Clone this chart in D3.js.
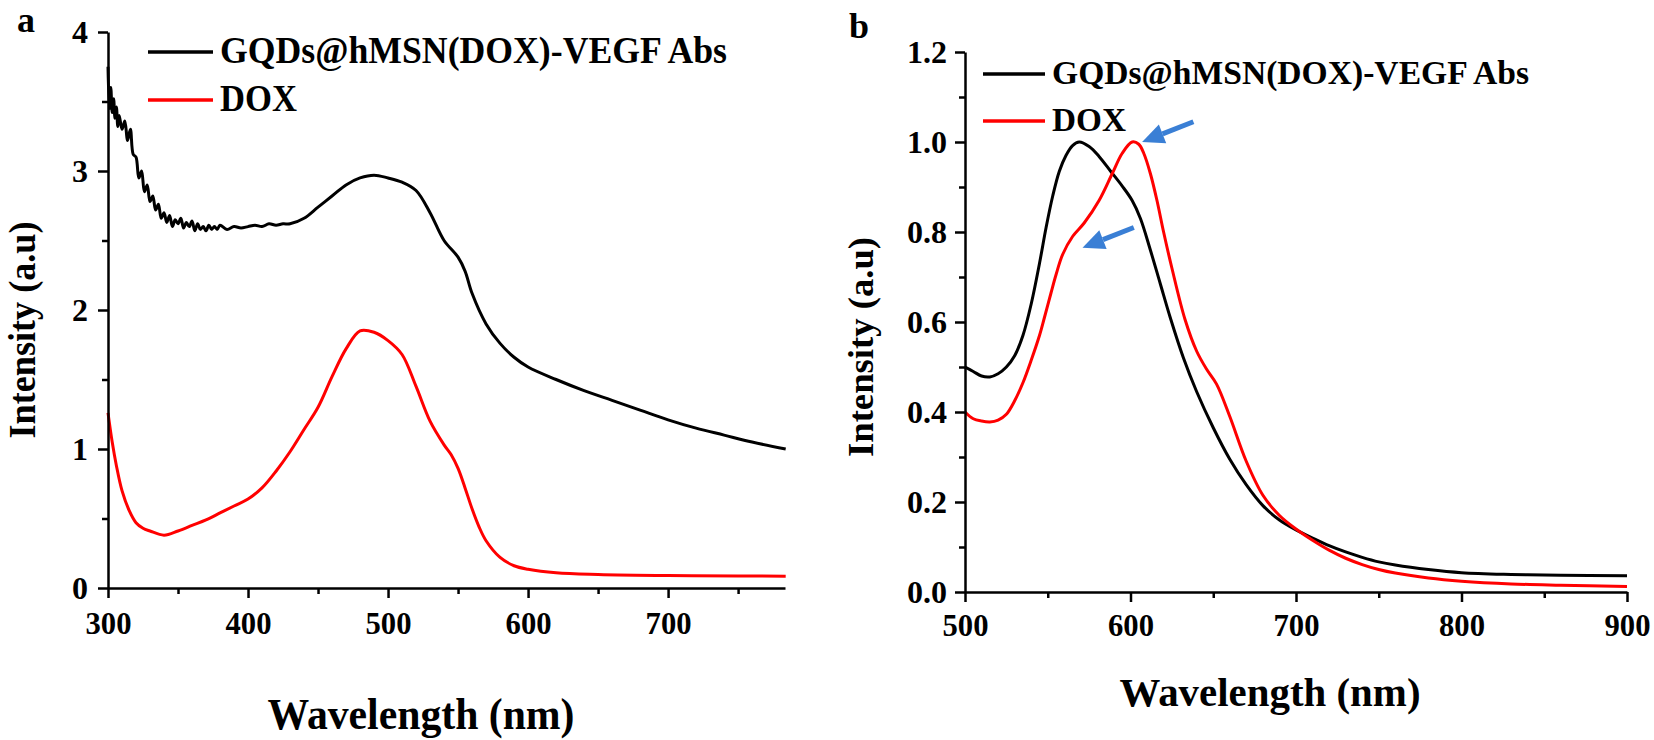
<!DOCTYPE html>
<html>
<head>
<style>
  body { margin: 0; background: #fff; }
  svg text { font-family: "Liberation Serif", "Times New Roman", serif; font-weight: bold; fill: #000; }
  .axis path, .axis line { stroke: #000; stroke-width: 2.5px; }
  .curve { fill: none; stroke-width: 3px; stroke-linejoin: round; }
</style>
</head>
<body>
<svg width="1654" height="740" font-family="Liberation Serif, Times New Roman, serif"></svg>
<script src="https://cdn.jsdelivr.net/npm/d3@7"></script>
<script>
// series names (legend)
const seriesNames = ["GQDs@hMSN(DOX)-VEGF Abs", "DOX"];

// panel a : absorbance
const absGqdNm = [300,301,302,303,304,305,306,307,308,
  310,312,314,316,318,320,322,324,326,328,330,332,334,336,338,340,342,344,346,348,350,
  352,354,356,358,360,362,364,366,368,370,372,374,376,378,380,
  385,390,395,400,405,410,415,420,425,430,
  440,450,460,470,480,490,500,510,520,530,
  540,550,555,560,570,580,590,600,
  620,640,660,680,700,720,740,760,784];
const absGqd = [3.75,3.45,3.6,3.42,3.52,3.38,3.46,3.32,3.4,
  3.3,3.36,3.22,3.3,3.12,3.1,2.95,3.0,2.85,2.9,2.78,2.82,2.72,2.76,2.66,2.7,2.63,2.68,2.6,2.65,2.62,
  2.66,2.59,2.63,2.6,2.64,2.57,2.62,2.58,2.6,2.57,2.61,2.58,2.6,2.58,2.61,
  2.58,2.6,2.59,2.6,2.61,2.6,2.62,2.61,2.62,2.62,
  2.66,2.74,2.82,2.9,2.95,2.97,2.95,2.92,2.86,2.7,
  2.5,2.38,2.28,2.12,1.9,1.76,1.66,1.59,
  1.5,1.42,1.35,1.28,1.21,1.15,1.1,1.05,1.0];

const absDoxNm = [300,303,306,310,315,320,325,330,
  340,350,360,370,380,390,400,410,420,430,440,450,460,470,480,490,500,510,520,530,
  540,545,550,555,560,565,570,
  580,590,600,
  620,650,700,750,784];
const absDox = [1.26,1.05,0.88,0.7,0.56,0.47,0.43,0.41,
  0.38,0.41,0.45,0.49,0.54,0.59,0.64,0.72,0.84,0.98,1.14,1.3,1.52,1.72,1.85,1.84,1.78,1.68,1.45,1.2,
  1.03,0.96,0.86,0.72,0.57,0.44,0.34,
  0.22,0.16,0.135,
  0.11,0.098,0.09,0.087,0.085];

// panel b : fluorescence
const flGqdNm = [500,505,510,515,520,525,530,
  535,540,545,549,553,557,561,565,569,
  575,581,588,595,601,606,612,618,624,632,640,
  650,660,670,680,690,700,710,720,730,740,750,760,
  780,800,830,860,900];
const flGqd = [0.50,0.49,0.48,0.478,0.485,0.50,0.525,
  0.57,0.64,0.73,0.81,0.88,0.935,0.97,0.992,1.0,
  0.99,0.968,0.935,0.902,0.87,0.83,0.76,0.685,0.61,0.52,0.445,
  0.365,0.295,0.238,0.192,0.16,0.138,0.12,0.103,0.089,0.077,0.067,0.06,
  0.05,0.043,0.039,0.037,0.036];

const flDoxNm = [500,505,510,515,520,525,530,535,540,545,
  548,552,555,559,565,572,581,589,595,601,
  605,608,612,616,620,625,633,640,646,652,
  660,670,680,690,700,710,720,730,740,750,760,
  780,800,830,860,900];
const flDox = [0.40,0.385,0.38,0.378,0.382,0.395,0.425,0.465,0.515,0.57,
  0.61,0.665,0.705,0.75,0.79,0.82,0.87,0.93,0.975,1.0,
  0.995,0.975,0.93,0.87,0.80,0.72,0.605,0.535,0.495,0.462,
  0.39,0.29,0.215,0.17,0.14,0.115,0.093,0.075,0.061,0.05,0.042,
  0.031,0.024,0.018,0.015,0.012];

// tick values
const aXTicks = [300,400,500,600,700];
const aXMinor = [350,450,550,650,750];
const aYTicks = [0,1,2,3,4];
const aYMinor = [0.5,1.5,2.5,3.5];
const bXTicks = [500,600,700,800,900];
const bXMinor = [550,650,750,850];
const bYTicks = [0,0.2,0.4,0.6,0.8,1.0,1.2];
const bYMinor = [0.1,0.3,0.5,0.7,0.9,1.1];

// arrows in panel b (tip / tail, data coords)
const arrowTipNm = [607, 571];
const arrowTipVal = [1.0, 0.765];
const arrowTailNm = [638, 602];
const arrowTailVal = [1.045, 0.81];

const svg = d3.select("svg");
const colors = ["#000", "#f00"];

function zip(xs, ys) { return xs.map((x, i) => ({x: x, y: ys[i]})); }

function panel(o) {
  const x = d3.scaleLinear().domain(o.xDomain).range(o.xRange);
  const y = d3.scaleLinear().domain(o.yDomain).range(o.yRange);
  const g = svg.append("g");

  const line = d3.line().x(d => x(d.x)).y(d => y(d.y)).curve(d3.curveCatmullRom);
  o.series.forEach((s, i) => {
    g.append("path").attr("class", "curve")
      .attr("stroke", colors[i])
      .attr("d", line(s));
  });

  // minor ticks
  g.append("g").attr("class", "axis").attr("transform", `translate(0,${o.yRange[0]})`)
    .call(d3.axisBottom(x).tickValues(o.xMinor).tickSize(6).tickFormat(""))
    .select(".domain").remove();
  g.append("g").attr("class", "axis").attr("transform", `translate(${o.xRange[0]},0)`)
    .call(d3.axisLeft(y).tickValues(o.yMinor).tickSize(6).tickFormat(""))
    .select(".domain").remove();

  const xa = g.append("g").attr("class", "axis").attr("transform", `translate(0,${o.yRange[0]})`)
    .call(d3.axisBottom(x).tickValues(o.xTicks).tickSize(10).tickSizeOuter(0).tickPadding(o.xPad).tickFormat(d3.format("d")))
    .attr("font-family", null).attr("font-size", 32);
  xa.selectAll("text").attr("textLength", 46).attr("lengthAdjust", "spacingAndGlyphs");
  g.append("g").attr("class", "axis").attr("transform", `translate(${o.xRange[0]},0)`)
    .call(d3.axisLeft(y).tickValues(o.yTicks).tickSize(10).tickSizeOuter(0).tickPadding(o.yPad).tickFormat(o.yFmt))
    .attr("font-family", null).attr("font-size", 32);

  // titles
  g.append("text").attr("x", o.xTitle[0]).attr("y", o.xTitle[1])
    .attr("text-anchor", "middle").attr("font-size", o.xTitle[2])
    .attr("textLength", o.xTitle[3]).attr("lengthAdjust", "spacingAndGlyphs")
    .text("Wavelength (nm)");
  g.append("text").attr("transform", `translate(${o.yTitle[0]},${o.yTitle[1]}) rotate(-90)`)
    .attr("text-anchor", "middle").attr("font-size", o.yTitle[2])
    .attr("textLength", o.yTitle[3]).attr("lengthAdjust", "spacingAndGlyphs")
    .text("Intensity (a.u)");
  g.append("text").attr("x", o.tag[0]).attr("y", o.tag[1]).attr("font-size", 36).text(o.tag[2]);

  // legend
  const lg = o.legend;
  seriesNames.forEach((name, i) => {
    const yy = lg.y + i * lg.dy;
    g.append("line").attr("x1", lg.x).attr("x2", lg.x + lg.len)
      .attr("y1", yy).attr("y2", yy).attr("stroke", colors[i]).attr("stroke-width", 3.5);
    g.append("text").attr("x", lg.x + lg.len + 7).attr("y", yy + lg.base)
      .attr("font-size", lg.size).attr("textLength", lg.widths[i]).attr("lengthAdjust", "spacingAndGlyphs")
      .text(name);
  });
  return {x: x, y: y, g: g};
}

panel({
  xDomain: [300, 783.5], xRange: [108, 785],
  yDomain: [0, 4], yRange: [588, 32],
  series: [zip(absGqdNm, absGqd), zip(absDoxNm, absDox)],
  xTicks: aXTicks, xMinor: aXMinor, yTicks: aYTicks, yMinor: aYMinor,
  xPad: 13, yPad: 10, yFmt: d3.format("d"),
  xTitle: [421, 729, 44, 307], yTitle: [35, 330, 38, 217],
  tag: [17, 32, "a"],
  legend: {x: 148, y: 52, dy: 48, len: 65, base: 11, size: 37, widths: [507, 77]}
});

const pb = panel({
  xDomain: [500, 900], xRange: [965, 1627],
  yDomain: [0, 1.2], yRange: [592, 52],
  series: [zip(flGqdNm, flGqd), zip(flDoxNm, flDox)],
  xTicks: bXTicks, xMinor: bXMinor, yTicks: bYTicks, yMinor: bYMinor,
  xPad: 11, yPad: 8, yFmt: d3.format(".1f"),
  xTitle: [1270, 706, 41, 301], yTitle: [873, 347, 36, 220],
  tag: [849, 38, "b"],
  legend: {x: 983, y: 74, dy: 47, len: 62, base: 10, size: 33, widths: [477, 74]}
});

// blue arrows
arrowTipNm.forEach((nm, i) => {
  const tx = pb.x(nm), ty = pb.y(arrowTipVal[i]);
  const sx = pb.x(arrowTailNm[i]), sy = pb.y(arrowTailVal[i]);
  const len = Math.hypot(tx - sx, ty - sy);
  const ux = (tx - sx) / len, uy = (ty - sy) / len;
  const headLen = 22, headW = 10;
  const bx = tx - ux * headLen, by = ty - uy * headLen;
  pb.g.append("line").attr("x1", sx).attr("y1", sy).attr("x2", bx).attr("y2", by)
    .attr("stroke", "#3a7fd5").attr("stroke-width", 5);
  pb.g.append("path")
    .attr("d", `M${tx},${ty}L${bx - uy * headW},${by + ux * headW}L${bx + uy * headW},${by - ux * headW}Z`)
    .attr("fill", "#3a7fd5");
});
</script>
</body>
</html>
